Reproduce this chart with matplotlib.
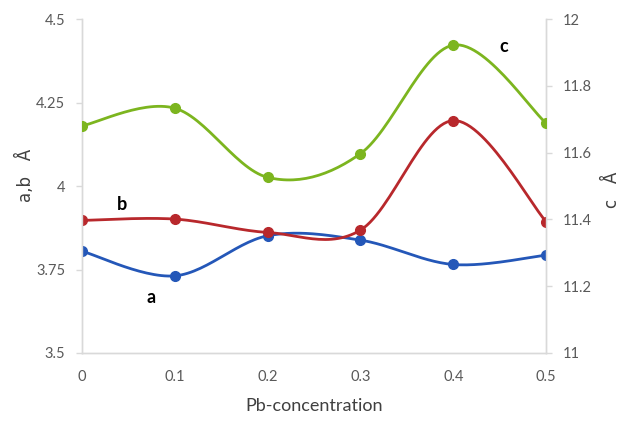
import numpy as np
import matplotlib.pyplot as plt

# Данные
pb = [0, 0.1, 0.2, 0.3, 0.4, 0.5]
a_vals = [3.805, 3.731, 3.851, 3.838, 3.765, 3.793]
b_vals = [3.897, 3.901, 3.861, 3.868, 4.196, 3.893]
c_vals = [11.680, 11.733, 11.526, 11.597, 11.922, 11.688]
left_ticks = [3.5, 3.75, 4, 4.25, 4.5]
left_labels = ['3.5', '3.75', '4', '4.25', '4.5']
right_ticks = [11, 11.2, 11.4, 11.6, 11.8, 12]
x_labels = ['0', '0.1', '0.2', '0.3', '0.4', '0.5']


# Сглаживание как в Excel (кривые Безье по Катмуллу-Рому)
def smooth(x, y, n=30):
    x = np.asarray(x, float)
    y = np.asarray(y, float)
    px = np.concatenate([[x[0]], x, [x[-1]]])
    py = np.concatenate([[y[0]], y, [y[-1]]])
    xs, ys = [], []
    t = np.linspace(0, 1, n)
    for i in range(1, len(px) - 2):
        p0 = np.array([px[i], py[i]])
        p3 = np.array([px[i + 1], py[i + 1]])
        c1 = p0 + (p3 - np.array([px[i - 1], py[i - 1]])) / 6
        c2 = p3 - (np.array([px[i + 2], py[i + 2]]) - p0) / 6
        pts = ((1 - t) ** 3)[:, None] * p0 + (3 * (1 - t) ** 2 * t)[:, None] * c1 \
            + (3 * (1 - t) * t ** 2)[:, None] * c2 + (t ** 3)[:, None] * p3
        xs.extend(pts[:, 0])
        ys.extend(pts[:, 1])
    return xs, ys


plt.rcParams['font.family'] = ['Lato', 'DejaVu Sans']

fig = plt.figure(figsize=(6.3, 4.23), dpi=100)
ax = fig.add_axes([0.130, 0.1655, 0.737, 0.7895])
ax2 = ax.twinx()

blue = '#2457b8'
red = '#b8282c'
green = '#7cb51f'

for yv, col in [(a_vals, blue), (b_vals, red)]:
    sx, sy = smooth(pb, yv)
    ax.plot(sx, sy, color=col, lw=2, zorder=3)
    ax.plot(pb, yv, 'o', color=col, ms=7, zorder=4)

sx, sy = smooth(pb, c_vals)
ax2.plot(sx, sy, color=green, lw=2, zorder=3)
ax2.plot(pb, c_vals, 'o', color=green, ms=7, zorder=4)

ax.set_xlim(0, 0.5)
ax.set_ylim(3.5, 4.5)
ax2.set_ylim(11, 12)
ax.set_xticks(pb)
ax.set_xticklabels(x_labels)
ax.set_yticks(left_ticks)
ax.set_yticklabels(left_labels)
ax2.set_yticks(right_ticks)
ax2.set_yticklabels([f'{v:g}' for v in right_ticks])

grey = '#d9d9d9'
for a_ in (ax, ax2):
    a_.spines['top'].set_visible(False)
    for s in ('left', 'right', 'bottom'):
        a_.spines[s].set_color(grey)
        a_.spines[s].set_linewidth(1)
    a_.tick_params(colors='#595959', labelsize=10.5, length=4, width=1)
    a_.tick_params(axis='y', color=grey)
ax.tick_params(axis='x', length=0, pad=12)
ax.tick_params(axis='y', pad=8)
ax2.tick_params(axis='y', pad=8)

ax.set_xlabel('Pb-concentration', fontsize=13, color='#404040', labelpad=10)
ax.set_ylabel('a,b   Å', fontsize=12, color='#404040',
              family=['DejaVu Sans'])
ax.yaxis.set_label_coords(-0.10, 0.533)
ax2.set_ylabel('c   Å', fontsize=12, color='#404040', rotation=90,
               family=['DejaVu Sans'])
ax2.yaxis.set_label_coords(1.123, 0.49)

ax.text(0.075, 3.665, 'a', fontsize=13, fontweight='bold', ha='center', va='center')
ax.text(0.043, 3.945, 'b', fontsize=13, fontweight='bold', ha='center', va='center')
ax.text(0.454, 4.418, 'c', fontsize=13, fontweight='bold', ha='center', va='center')

plt.savefig('out.png', dpi=100)
